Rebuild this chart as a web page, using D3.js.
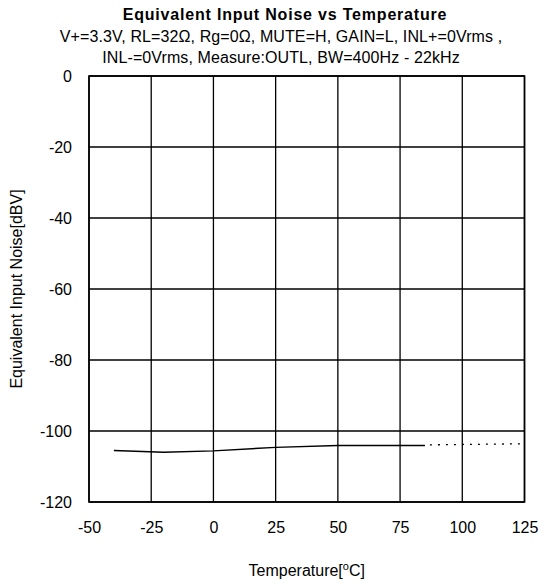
<!DOCTYPE html>
<html><head><meta charset="utf-8">
<script src="https://cdn.jsdelivr.net/npm/d3@7"></script>
<style>body{margin:0;background:#fff}svg{display:block}text{font-family:"Liberation Sans",Arial,sans-serif;fill:#000}</style>
</head><body>
<script>
const titleText = "Equivalent Input Noise vs Temperature";
const subtitleLines = ["V+=3.3V, RL=32\u03A9, Rg=0\u03A9, MUTE=H, GAIN=L, INL+=0Vrms ,", "INL-=0Vrms, Measure:OUTL, BW=400Hz - 22kHz"];
const xLabelParts = ["Temperature[", "o", "C]"];
const yLabel = "Equivalent Input Noise[dBV]";
const xTicks = [-50, -25, 0, 25, 50, 75, 100, 125];
const yTicks = [0, -20, -40, -60, -80, -100, -120];
const solidTemp = [-40, -20, 0, 25, 50, 85];
const solidNoise = [-105.5, -106.0, -105.6, -104.6, -104.1, -104.1];
const dottedTemp = [87, 125];
const dottedNoise = [-103.9, -103.6];

const W = 540, H = 585;
const m = {left: 89, right: 15.5, top: 76, bottom: 83};
const svg = d3.select("body").append("svg").attr("width", W).attr("height", H);
const x = d3.scaleLinear().domain([-50, 125]).range([m.left, W - m.right]);
const y = d3.scaleLinear().domain([-120, 0]).range([H - m.bottom, m.top]);

// grid
svg.append("g").selectAll("line").data(xTicks).join("line")
  .attr("x1", d => x(d)).attr("x2", d => x(d)).attr("y1", y(0)).attr("y2", y(-120))
  .attr("stroke", "#000").attr("stroke-width", 1.3);
svg.append("g").selectAll("line").data(yTicks).join("line")
  .attr("y1", d => y(d)).attr("y2", d => y(d)).attr("x1", x(-50)).attr("x2", x(125))
  .attr("stroke", "#000").attr("stroke-width", 1.3);
svg.append("rect").attr("x", x(-50)).attr("y", y(0)).attr("width", x(125) - x(-50)).attr("height", y(-120) - y(0))
  .attr("fill", "none").attr("stroke", "#000").attr("stroke-width", 1.6);

// axes labels via d3 axes
const fmt = d => String(d);
const xAxis = svg.append("g").attr("transform", `translate(0,${y(-120)})`)
  .call(d3.axisBottom(x).tickValues(xTicks).tickSize(0).tickPadding(20).tickFormat(fmt));
xAxis.select(".domain").remove();
xAxis.selectAll("text").attr("font-size", 16).attr("font-family", "Liberation Sans, Arial, sans-serif").attr("fill", "#000");
const yAxis = svg.append("g").attr("transform", `translate(${x(-50)},0)`)
  .call(d3.axisLeft(y).tickValues(yTicks).tickSize(0).tickPadding(17).tickFormat(fmt));
yAxis.select(".domain").remove();
yAxis.selectAll("text").attr("font-size", 16).attr("font-family", "Liberation Sans, Arial, sans-serif").attr("fill", "#000");

// lines
const line = d3.line().x(d => x(d[0])).y(d => y(d[1]));
svg.append("path").datum(solidTemp.map((t, i) => [t, solidNoise[i]]))
  .attr("d", line).attr("fill", "none").attr("stroke", "#000").attr("stroke-width", 1.4);
svg.append("path").datum(dottedTemp.map((t, i) => [t, dottedNoise[i]]))
  .attr("d", line).attr("fill", "none").attr("stroke", "#000").attr("stroke-width", 1.3)
  .attr("stroke-dasharray", "2,6");

// titles
svg.append("text").attr("x", 285).attr("y", 20).attr("text-anchor", "middle")
  .attr("font-size", 16).attr("font-weight", "bold").attr("letter-spacing", 0.8).text(titleText);
subtitleLines.forEach((s, i) => {
  svg.append("text").attr("x", 281).attr("y", 42 + i * 21).attr("text-anchor", "middle")
    .attr("font-size", 16).attr("letter-spacing", 0.1).text(s);
});
const xt = svg.append("text").attr("x", (x(-50) + x(125)) / 2).attr("y", 576).attr("text-anchor", "middle")
  .attr("font-size", 16);
xt.append("tspan").text(xLabelParts[0]);
xt.append("tspan").attr("font-size", 11).attr("dy", -6).text(xLabelParts[1]);
xt.append("tspan").attr("dy", 6).text(xLabelParts[2]);
svg.append("text").attr("transform", `translate(22,${(y(0) + y(-120)) / 2}) rotate(-90)`)
  .attr("text-anchor", "middle").attr("font-size", 16).text(yLabel);
</script>
</body></html>
